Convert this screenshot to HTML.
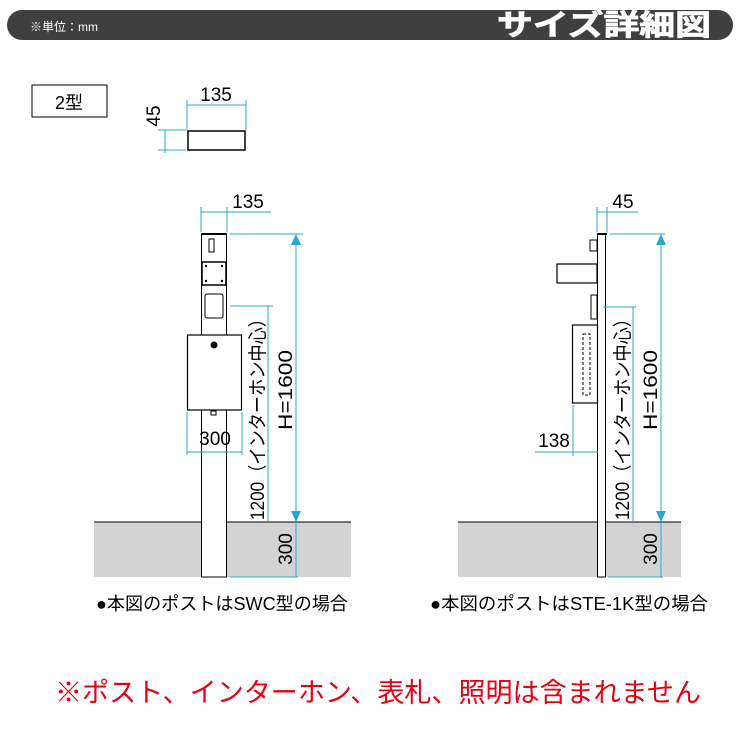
<!DOCTYPE html>
<html><head><meta charset="utf-8"><style>
body{margin:0;background:#fff;}
svg{display:block;font-family:"Liberation Sans","Noto Sans CJK JP",sans-serif;}
</style></head><body>
<svg width="740" height="740" viewBox="0 0 740 740" xmlns="http://www.w3.org/2000/svg">
<rect x="7" y="10" width="726" height="30" rx="15" fill="#3f3f3f"/>
<text x="30" y="31" font-size="12" fill="#fff">※単位：mm</text>
<text x="497" y="35" font-size="29" font-weight="bold" fill="#fff" textLength="214" lengthAdjust="spacingAndGlyphs" stroke="#fff" stroke-width="0.8">サイズ詳細図</text>

<rect x="32" y="85" width="75" height="32" fill="#fff" stroke="#000" stroke-width="1"/>
<text x="69" y="109" font-size="18" text-anchor="middle">2型</text>
<g stroke="#2aa7d0" stroke-width="1" fill="none">
<line x1="187" y1="105" x2="246" y2="105"/><line x1="187" y1="100" x2="187" y2="130"/><line x1="246" y1="100" x2="246" y2="130"/>
<line x1="158" y1="130" x2="186" y2="130"/><line x1="158" y1="150" x2="186" y2="150"/><line x1="165" y1="130" x2="165" y2="153"/>
</g>
<text x="216" y="101" font-size="19" text-anchor="middle">135</text>
<text transform="translate(160,116) rotate(-90)" font-size="19" text-anchor="middle">45</text>
<rect x="188" y="131" width="57" height="19" fill="#fff" stroke="#000" stroke-width="1.5"/>

<!-- ground -->
<rect x="94" y="522" width="257" height="55" fill="#d3d3d3"/>
<line x1="94" y1="522" x2="351" y2="522" stroke="#000"/>
<rect x="458" y="522" width="223" height="55" fill="#d3d3d3"/>
<line x1="458" y1="522" x2="681" y2="522" stroke="#000"/>

<!-- left post -->
<rect x="201.5" y="234" width="25" height="343" fill="#fff" stroke="#000" stroke-width="1"/>
<line x1="201" y1="234" x2="227" y2="234" stroke="#000" stroke-width="2"/>
<rect x="209" y="239" width="5" height="13" fill="#fff" stroke="#000"/>
<rect x="202" y="262" width="24" height="23" fill="#fff" stroke="#000" stroke-width="1.5"/>
<circle cx="206" cy="266" r="1.2"/><circle cx="222" cy="266" r="1.2"/><circle cx="206" cy="281" r="1.2"/><circle cx="222" cy="281" r="1.2"/>
<rect x="205" y="294" width="18" height="24" rx="2" fill="#fff" stroke="#000"/>
<rect x="187.5" y="335" width="54" height="75" fill="#fff" stroke="#000" stroke-width="1.2"/>
<circle cx="214" cy="345" r="3.5" fill="#000"/>
<rect x="211" y="411" width="5" height="4" fill="#fff" stroke="#000"/>
<g stroke="#2aa7d0" stroke-width="1" fill="none">
<line x1="201" y1="212" x2="271" y2="212"/><line x1="201" y1="207" x2="201" y2="232"/><line x1="227" y1="207" x2="227" y2="232"/>
<line x1="230" y1="234" x2="303" y2="234"/><line x1="296" y1="240" x2="296" y2="518"/>
<line x1="230" y1="306" x2="273" y2="306"/><line x1="268" y1="306" x2="268" y2="522"/>
<line x1="187" y1="412" x2="187" y2="455"/><line x1="242" y1="412" x2="242" y2="455"/><line x1="187" y1="452" x2="242" y2="452"/>
<line x1="230" y1="577" x2="298" y2="577"/><line x1="296" y1="522" x2="296" y2="577"/>
</g>
<polygon points="296,234 291,245 301,245" fill="#2aa7d0"/>
<polygon points="296,522 291,511 301,511" fill="#2aa7d0"/>
<text x="248" y="208" font-size="19" text-anchor="middle">135</text>
<text x="215" y="445" font-size="19" text-anchor="middle">300</text>
<text transform="translate(264,520) rotate(-90)" font-size="19" textLength="210" lengthAdjust="spacingAndGlyphs">1200（インターホン中心）</text>
<text transform="translate(292,430) rotate(-90)" font-size="19" textLength="80" lengthAdjust="spacingAndGlyphs">H=1600</text>
<text transform="translate(292,549) rotate(-90)" font-size="19" text-anchor="middle">300</text>
<text x="96" y="610" font-size="18" textLength="252" lengthAdjust="spacingAndGlyphs">●本図のポストはSWC型の場合</text>

<!-- right post -->
<rect x="597.5" y="234" width="8" height="343" fill="#fff" stroke="#000" stroke-width="1"/>
<line x1="597" y1="234" x2="607" y2="234" stroke="#000" stroke-width="2"/>
<rect x="590" y="240" width="7" height="11" fill="#fff" stroke="#000"/>
<rect x="557" y="264" width="40" height="19" fill="#fff" stroke="#000" stroke-width="1.2"/>
<rect x="591" y="295" width="6" height="24" fill="#fff" stroke="#000"/>
<rect x="572.5" y="325" width="25" height="78" fill="#fff" stroke="#000" stroke-width="1.2"/>
<rect x="583" y="334" width="7" height="61" fill="none" stroke="#000" stroke-dasharray="3,2"/>
<g stroke="#2aa7d0" stroke-width="1" fill="none">
<line x1="597" y1="207" x2="597" y2="232"/><line x1="607" y1="207" x2="607" y2="232"/><line x1="597" y1="212" x2="638" y2="212"/>
<line x1="610" y1="234" x2="665" y2="234"/><line x1="661" y1="240" x2="661" y2="518"/>
<line x1="603" y1="307" x2="636" y2="307"/><line x1="633" y1="307" x2="633" y2="522"/>
<line x1="573" y1="405" x2="573" y2="456"/><line x1="535" y1="452" x2="598" y2="452"/>
<line x1="608" y1="577" x2="663" y2="577"/><line x1="661" y1="522" x2="661" y2="577"/>
</g>
<polygon points="661,234 656,245 666,245" fill="#2aa7d0"/>
<polygon points="661,522 656,511 666,511" fill="#2aa7d0"/>
<text x="623" y="208" font-size="19" text-anchor="middle">45</text>
<text x="554" y="447" font-size="19" text-anchor="middle">138</text>
<text transform="translate(629,520) rotate(-90)" font-size="19" textLength="210" lengthAdjust="spacingAndGlyphs">1200（インターホン中心）</text>
<text transform="translate(657,430) rotate(-90)" font-size="19" textLength="80" lengthAdjust="spacingAndGlyphs">H=1600</text>
<text transform="translate(657,549) rotate(-90)" font-size="19" text-anchor="middle">300</text>
<text x="430" y="610" font-size="18" textLength="278" lengthAdjust="spacingAndGlyphs">●本図のポストはSTE-1K型の場合</text>

<text x="55" y="702" font-size="27" fill="#e60012" textLength="646" lengthAdjust="spacingAndGlyphs">※ポスト、インターホン、表札、照明は含まれません</text>
</svg>
</body></html>
